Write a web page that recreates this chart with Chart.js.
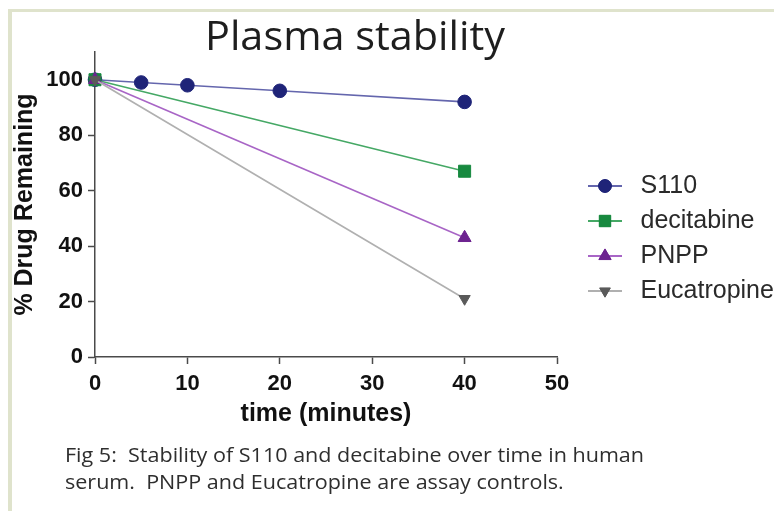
<!DOCTYPE html>
<html>
<head>
<meta charset="utf-8">
<script src="https://cdn.jsdelivr.net/npm/chart.js@4/dist/chart.umd.min.js"></script>
<style>
  html, body { margin:0; padding:0; background:#fff; }
  #wrap { position:relative; width:774px; height:511px; overflow:hidden; background:#fff; }
  #frameTop { position:absolute; left:8px; top:9px; width:766px; height:3px; background:#dfe3cc; }
  #frameLeft { position:absolute; left:8px; top:9px; width:4px; height:502px; background:#dfe3cc; }
  #c { position:absolute; left:0; top:0; }
  #title { position:absolute; left:205px; top:14.5px; font-family:"Open Sans", sans-serif; font-size:40px; line-height:40px; color:#1e1e1e; white-space:nowrap; transform-origin:0 0; }
  #caption { position:absolute; left:65px; top:441px; font-family:"Open Sans", sans-serif; font-size:20px; line-height:27px; color:#2e2e2e; white-space:nowrap; transform-origin:0 0; }
</style>
</head>
<body>
<div id="wrap">
  <div id="frameTop"></div>
  <div id="frameLeft"></div>
  <canvas id="c" width="774" height="511"></canvas>
  <div id="title">Plasma stability</div>
  <div id="caption"><span id="cap1">Fig 5:&nbsp; Stability of S110 and decitabine over time in human</span><br><span id="cap2">serum.&nbsp; PNPP and Eucatropine are assay controls.</span></div>
</div>
<script>
// ---- data ----
const seriesNames = ['S110', 'decitabine', 'PNPP', 'Eucatropine'];
const s110Times = [0, 5, 10, 20, 40];
const s110Values = [100, 99, 98, 96, 92];
const controlTimes = [0, 40];
const decitabineValues = [100, 67];
const pnppValues = [100, 43];
const eucatropineValues = [100, 21];
const xTicks = [0, 10, 20, 30, 40, 50];
const yTicks = [0, 20, 40, 60, 80, 100];

// ---- styles ----
const styles = [
  { marker:'#1f2478', line:'#6466ad', shape:'circle', radius:6.8, rotation:0 },
  { marker:'#17893f', line:'#45a865', shape:'rect', radius:8.5, rotation:0 },
  { marker:'#6d2390', line:'#a865c6', shape:'triangle', radius:7.5, rotation:0 },
  { marker:'#5a5a5a', line:'#b0b0b0', shape:'triangle', radius:6.5, rotation:180 }
];

function pts(xs, ys) { return xs.map((x, i) => ({ x: x, y: ys[i] })); }
const dataSets = [
  pts(s110Times, s110Values),
  pts(controlTimes, decitabineValues),
  pts(controlTimes, pnppValues),
  pts(controlTimes, eucatropineValues)
];

// legend swatch: line with marker in the middle
function swatch(st) {
  const cv = document.createElement('canvas');
  cv.width = 49; cv.height = 22;
  const g = cv.getContext('2d');
  g.strokeStyle = st.line; g.lineWidth = 2;
  g.beginPath(); g.moveTo(15, 11); g.lineTo(49, 11); g.stroke();
  g.fillStyle = st.marker; g.strokeStyle = st.marker; g.lineWidth = 1;
  Chart.helpers.drawPoint(g, { pointStyle: st.shape, radius: st.radius * 0.95, rotation: st.rotation, borderWidth: 1 }, 32, 11);
  g.fill();
  return cv;
}

const datasets = dataSets.map((d, i) => ({
  label: seriesNames[i],
  data: d,
  borderColor: styles[i].line,
  borderWidth: 1.6,
  backgroundColor: styles[i].marker,
  pointBackgroundColor: styles[i].marker,
  pointBorderColor: styles[i].marker,
  pointBorderWidth: 1,
  pointStyle: styles[i].shape,
  pointRadius: styles[i].radius,
  pointRotation: styles[i].rotation,
  tension: 0,
  clip: false,
  order: 3 - i
}));

const axisColor = '#4a4a4a';
const tickFont = { family: '"Liberation Sans", Arial, sans-serif', size: 22, weight: 'bold' };
const titleFont = { family: '"Liberation Sans", Arial, sans-serif', size: 25, weight: 'bold' };

const fixLegend = {
  id: 'fixLegend',
  beforeLayout(chart) {
    const lg = chart.legend;
    if (lg && !lg._patched) {
      const f = lg.fit.bind(lg);
      lg.fit = function () { f(); if (!this.isHorizontal()) this.width = 217; };
      lg._patched = true;
    }
  },
  afterLayout(chart) {
    const lg = chart.legend;
    if (lg) { lg.top -= 2; lg.bottom -= 2; }
  }
};

new Chart(document.getElementById('c'), {
  type: 'scatter',
  data: { datasets: datasets },
  plugins: [fixLegend],
  options: {
    responsive: false,
    animation: false,
    showLine: true,
    layout: { padding: { left: 10, top: 52, right: 0, bottom: 82 } },
    plugins: {
      tooltip: { enabled: false },
      legend: {
        position: 'right',
        align: 'center',
        labels: {
          usePointStyle: true,
          pointStyleWidth: 61,
          padding: 10,
          color: '#2a2a2a',
          font: { family: '"Liberation Sans", Arial, sans-serif', size: 25 },
          generateLabels: () => seriesNames.map((n, i) => ({
            text: n,
            pointStyle: swatch(styles[i]),
            fillStyle: styles[i].marker,
            strokeStyle: styles[i].marker,
            lineWidth: 0,
            hidden: false,
            datasetIndex: i,
            fontColor: '#2a2a2a'
          }))
        }
      }
    },
    scales: {
      x: {
        type: 'linear',
        min: 0, max: 50,
        afterBuildTicks: s => { s.ticks = xTicks.map(v => ({ value: v })); },
        afterFit: s => { s.height = 72; },
        ticks: { font: tickFont, color: '#111', padding: 7, maxRotation: 0 },
        grid: { drawOnChartArea: false, drawTicks: true, tickLength: 7, tickColor: axisColor, tickWidth: 1.5 },
        border: { display: true, color: axisColor, width: 1.5 },
        title: { display: true, text: 'time (minutes)', font: titleFont, color: '#111', padding: 0 }
      },
      y: {
        type: 'linear',
        min: 0, max: 110,
        afterBuildTicks: s => { s.ticks = yTicks.map(v => ({ value: v })); },
        afterFit: s => { s.width = 85; },
        ticks: { font: tickFont, color: '#111', padding: 5 },
        grid: { drawOnChartArea: false, drawTicks: true, tickLength: 7, tickColor: axisColor, tickWidth: 1.5 },
        border: { display: true, color: axisColor, width: 1.5 },
        title: { display: true, text: '% Drug Remaining', font: titleFont, color: '#111', padding: 0 }
      }
    }
  }
});

// fit title / caption widths to the reference
function fitWidth(el, target) {
  const w = el.getBoundingClientRect().width;
  if (w > 0) el.style.transform = 'scaleX(' + (target / w) + ')';
}
fitWidth(document.getElementById('title'), 300);
const cap = document.getElementById('caption');
const w1 = document.getElementById('cap1').getBoundingClientRect().width;
if (w1 > 0) cap.style.transform = 'scaleX(' + (579 / w1) + ')';
</script>
</body>
</html>
